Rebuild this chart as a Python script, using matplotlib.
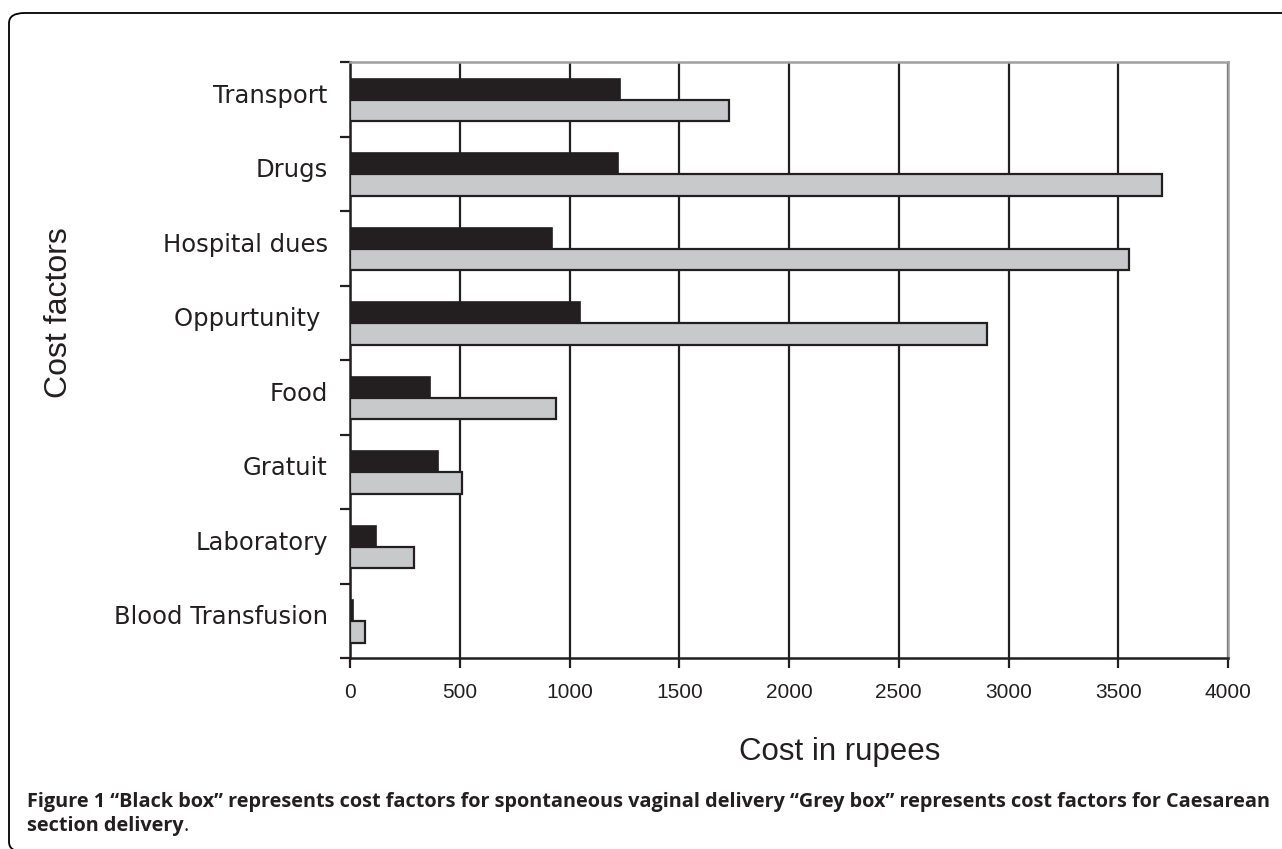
import matplotlib.pyplot as plt
import numpy as np
from matplotlib.patches import FancyBboxPatch

# cost factors, top to bottom as in the figure
categories = ['Transport', 'Drugs', 'Hospital dues', 'Oppurtunity ', 'Food',
              'Gratuit', 'Laboratory', 'Blood Transfusion']
vaginal = [1230, 1220, 920, 1050, 365, 400, 120, 12]       # black box
caesarean = [1725, 3700, 3550, 2900, 940, 510, 290, 70]    # grey box
x_ticks = [0, 500, 1000, 1500, 2000, 2500, 3000, 3500, 4000]

dark = '#231f20'
grey_fill = '#c8c9cb'
frame_grey = '#a0a0a0'

fig = plt.figure(figsize=(12.82, 8.49), dpi=100)
W, H = 1282, 849

# rounded frame around figure + caption (runs off the right and bottom edge)
frame = FancyBboxPatch((9 / W, -3 / H), 1.2, (836 + 3) / H,
                       boxstyle='round,pad=0,rounding_size=0.012',
                       transform=fig.transFigure, fill=False,
                       edgecolor='black', linewidth=1.3)
fig.patches.append(frame)

ax = fig.add_axes([350 / W, 1 - 658 / H, (1228 - 350) / W, (658 - 62) / H])

n = len(categories)
centers = np.arange(n)[::-1] + 0.5
bh = 0.285

ax.barh(centers - 0.01, vaginal, height=bh, align='edge',
        color=dark, edgecolor=dark, linewidth=1.2, zorder=3)
ax.barh(centers - 0.01, caesarean, height=-bh, align='edge',
        color=grey_fill, edgecolor=dark, linewidth=1.6, zorder=3)

ax.set_xlim(0, 4000)
ax.set_ylim(0, n)
ax.set_xticks(x_ticks)
ax.set_xticklabels([str(t) for t in x_ticks], family='Liberation Sans',
                   fontsize=15, color=dark)
ax.xaxis.grid(True, color=dark, linewidth=1.6, zorder=0)
ax.set_axisbelow(True)

ax.set_yticks(np.arange(n + 1))
ax.set_yticklabels([])
ax.set_yticks(centers + 0.08, minor=True)
ax.set_yticklabels(categories, minor=True, family='DejaVu Sans',
                   fontsize=17.5, color=dark)
ax.tick_params(axis='y', which='major', direction='out', length=7,
               width=1.6, color=dark)
ax.tick_params(axis='y', which='minor', length=0, pad=16)
ax.tick_params(axis='x', direction='out', length=7, width=1.6,
               color=dark, pad=11)

for side in ['left', 'bottom']:
    ax.spines[side].set_color(dark)
    ax.spines[side].set_linewidth(1.8)
for side in ['top', 'right']:
    ax.spines[side].set_color(frame_grey)
    ax.spines[side].set_linewidth(1.8)

fig.text(840 / W, 1 - 752 / H, 'Cost in rupees', family='Liberation Sans',
         fontsize=22.5, ha='center', va='center', color=dark)
fig.text(59 / W, 1 - 313 / H, 'Cost factors', family='Liberation Sans',
         fontsize=23, rotation=90, ha='center', va='center', color=dark)

fig.text(27 / W, 1 - 802 / H,
         'Figure 1 \u201cBlack box\u201d represents cost factors for spontaneous '
         'vaginal delivery \u201cGrey box\u201d represents cost factors for Caesarean',
         family='Open Sans', fontsize=14.3, fontweight='bold', ha='left',
         va='center', color=dark)
t2 = fig.text(27 / W, 1 - 826 / H, 'section delivery', family='Open Sans',
              fontsize=14.3, fontweight='bold', ha='left', va='center', color=dark)
fig.canvas.draw()
bb = t2.get_window_extent()
fig.text(bb.x1 / W, 1 - 826 / H, '.', family='Open Sans', fontsize=14.3,
         ha='left', va='center', color=dark)

fig.savefig('out.png', dpi=100)
